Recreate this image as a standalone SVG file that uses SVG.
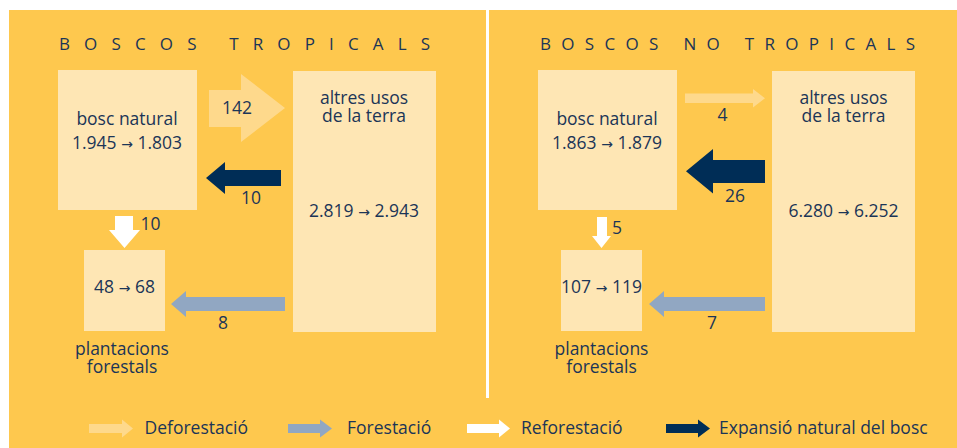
<svg xmlns="http://www.w3.org/2000/svg" width="957" height="448" viewBox="0 0 957 448">
<style>
.bg{fill:#FEC84E}
.box{fill:#FEE6B4}
.t{font-family:"Open Sans","Liberation Sans",sans-serif;font-size:17.5px;fill:#1B3557;text-anchor:middle}
.n{font-family:"Open Sans","Liberation Sans",sans-serif;font-size:17.5px;fill:#1B3557;text-anchor:middle}
.ar{font-family:"DejaVu Sans",sans-serif;font-size:14px}
.title{font-family:"Open Sans","Liberation Sans",sans-serif;font-size:17px;fill:#1B3557}
.lg{font-family:"Open Sans","Liberation Sans",sans-serif;font-size:17.5px;fill:#1B3557}
.def{fill:#FED98C}
.nav{fill:#002D56}
.fo{fill:#91A7C2}
.wh{fill:#FFFFFF}
</style>
<rect x="0" y="0" width="957" height="448" fill="#FFFFFF"/>
<rect class="bg" x="9" y="10" width="948" height="438"/>
<rect x="486" y="10" width="3" height="388" fill="#FFFFFF"/>

<text class="title" x="59" y="50" textLength="371" lengthAdjust="spacing">BOSCOS TROPICALS</text>
<text class="title" x="540" y="50" textLength="375" lengthAdjust="spacing">BOSCOS NO TROPICALS</text>

<g id="trop-bosc-natural">
<rect class="box" x="58" y="70" width="139" height="140"/>
<text class="t" x="127" y="125">bosc natural</text>
<text class="n" x="127" y="149">1.945 <tspan class="ar">→</tspan> 1.803</text>
</g>
<g id="trop-altres-usos">
<rect class="box" x="293" y="71" width="143" height="261"/>
<text class="t" x="364" y="104">altres usos<tspan x="364" dy="18">de la terra</tspan></text>
<text class="n" x="364" y="217">2.819 <tspan class="ar">→</tspan> 2.943</text>
</g>
<g id="trop-plantacions">
<rect class="box" x="84" y="250" width="81" height="81"/>
<text class="n" x="124.5" y="293">48 <tspan class="ar">→</tspan> 68</text>
<text class="t" x="122" y="355">plantacions<tspan x="122" dy="18">forestals</tspan></text>
</g>

<g id="notrop-bosc-natural">
<rect class="box" x="538" y="70" width="139" height="140"/>
<text class="t" x="607" y="125">bosc natural</text>
<text class="n" x="607" y="149">1.863 <tspan class="ar">→</tspan> 1.879</text>
</g>
<g id="notrop-altres-usos">
<rect class="box" x="772" y="71" width="143" height="261"/>
<text class="t" x="843.5" y="104">altres usos<tspan x="843.5" dy="18">de la terra</tspan></text>
<text class="n" x="843.5" y="217">6.280 <tspan class="ar">→</tspan> 6.252</text>
</g>
<g id="notrop-plantacions">
<rect class="box" x="561" y="250" width="81" height="81"/>
<text class="n" x="601.5" y="293">107 <tspan class="ar">→</tspan> 119</text>
<text class="t" x="601.5" y="355">plantacions<tspan x="601.5" dy="18">forestals</tspan></text>
</g>

<g id="connectors">
<polygon class="def" points="209,90 241,90 241,74 285,108 241,142 241,127 209,127"/>
<text class="n" x="237" y="114">142</text>
<polygon class="nav" points="281,170 225,170 225,162 206,178 225,194 225,186 281,186"/>
<text class="n" x="251" y="204">10</text>
<polygon class="wh" points="115,216 133,216 133,230 140,230 124.5,248 109,230 115,230"/>
<text class="n" x="150.5" y="230">10</text>
<polygon class="fo" points="285,297 186,297 186,291 171,304 186,317 186,311 285,311"/>
<text class="n" x="223" y="329">8</text>

<polygon class="def" points="685,93.5 753,93.5 753,89 765,98.3 753,107.5 753,103 685,103"/>
<text class="n" x="722.5" y="121">4</text>
<polygon class="nav" points="765,160 713,160 713,149 686,171.3 713,193.5 713,183 765,183"/>
<text class="n" x="735" y="202">26</text>
<polygon class="wh" points="597,217 607,217 607,236 611,236 601.5,248 592,236 597,236"/>
<text class="n" x="617" y="234">5</text>
<polygon class="fo" points="765,297 664,297 664,291 649,304 664,317 664,311 765,311"/>
<text class="n" x="712" y="329">7</text>
</g>

<g id="legend">
<polygon class="def" points="89,424 122,424 122,419.5 133,428.5 122,437.5 122,433 89,433"/>
<text class="lg" x="144.5" y="434">Deforestació</text>
<polygon class="fo" points="288,424 320,424 320,419.5 332,428.5 320,437.5 320,433 288,433"/>
<text class="lg" x="347" y="434">Forestació</text>
<polygon class="wh" points="467,424 499,424 499,419.5 510,428.5 499,437.5 499,433 467,433"/>
<text class="lg" x="521" y="434">Reforestació</text>
<polygon class="nav" points="666,424 698,424 698,419.5 710,428.5 698,437.5 698,433 666,433"/>
<text class="lg" x="719" y="434">Expansió natural del bosc</text>
</g>
</svg>
